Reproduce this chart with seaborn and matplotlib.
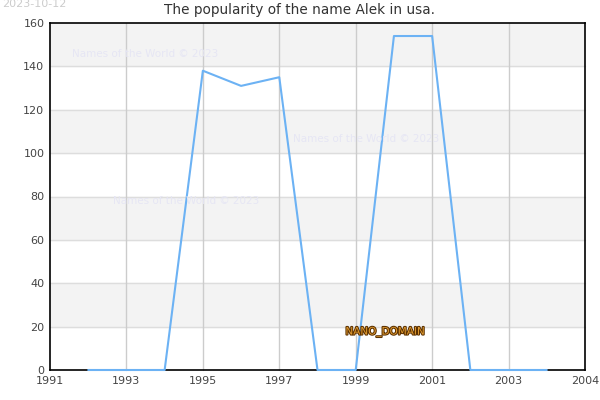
import numpy as np
import pandas as pd
import matplotlib
matplotlib.use('Agg')
import matplotlib.pyplot as plt
import matplotlib.patheffects as pe
import seaborn as sns

# Data

years = [1992, 1993, 1994, 1995, 1996, 1997, 1998, 1999, 2000, 2001, 2002, 2003, 2004]
counts = [0, 0, 0, 138, 131, 135, 0, 0, 154, 154, 0, 0, 0]
# the reference axis runs to 2005 but labels its last tick "2004"
xtick_pos = [1991, 1993, 1995, 1997, 1999, 2001, 2003, 2005]
xtick_labels = ['1991', '1993', '1995', '1997', '1999', '2001', '2003', '2004']
yticks = [0, 20, 40, 60, 80, 100, 120, 140, 160]

df = pd.DataFrame({'year': years, 'count': counts})

sns.set_style('white')
plt.rcParams['font.family'] = ['DejaVu Sans']

fig = plt.figure(figsize=(6, 4), dpi=100)
ax = fig.add_axes([50/600, 30/400, 535/600, 347/400])

# alternating bands
for lo in [20, 60, 100, 140]:
    ax.axhspan(lo, lo + 20, color='#f3f3f3', zorder=0)
for y in yticks[1:-1]:
    ax.axhline(y, color='#dddddd', lw=1, zorder=1)
for x in xtick_pos[1:-1]:
    ax.axvline(x, color='#cccccc', lw=1, zorder=1)

sns.lineplot(data=df, x='year', y='count', ax=ax, color='#6cb2f4', lw=1.5, zorder=3)
for line in ax.lines:
    line.set_clip_on(False)

ax.set_xlim(1991, 2005)
ax.set_ylim(0, 160)
ax.set_xticks(xtick_pos)
ax.set_xticklabels(xtick_labels)
ax.set_yticks(yticks)
ax.set_xlabel('')
ax.set_ylabel('')
ax.tick_params(labelsize=8, colors='#444444', length=0, pad=4)
for s in ax.spines.values():
    s.set_color('black')
    s.set_linewidth(1.2)
    s.set_zorder(2)

fig.text(0.5, 1 - 10/400, 'The popularity of the name Alek in usa.', ha='center', va='center',
         fontsize=9.8, color='#333333')
fig.text(2/600, 1 - 4/400, '2023-10-12', ha='left', va='center', fontsize=8, color='#cccccc')

for wx, wy in [(72, 54), (293, 139), (113, 201)]:
    fig.text(wx/600, 1 - wy/400, 'Names of the World © 2023', ha='left', va='center',
             fontsize=7.5, color='#e6e6f4', zorder=2)

t = fig.text(385/600, 1 - 332/400, 'NANO_DOMAIN', ha='center', va='center', fontsize=7.5,
             color='#e09a30', zorder=5)
t.set_path_effects([pe.Stroke(linewidth=1.5, foreground='#5a3000'), pe.Normal()])

fig.savefig('out.png', dpi=100)
